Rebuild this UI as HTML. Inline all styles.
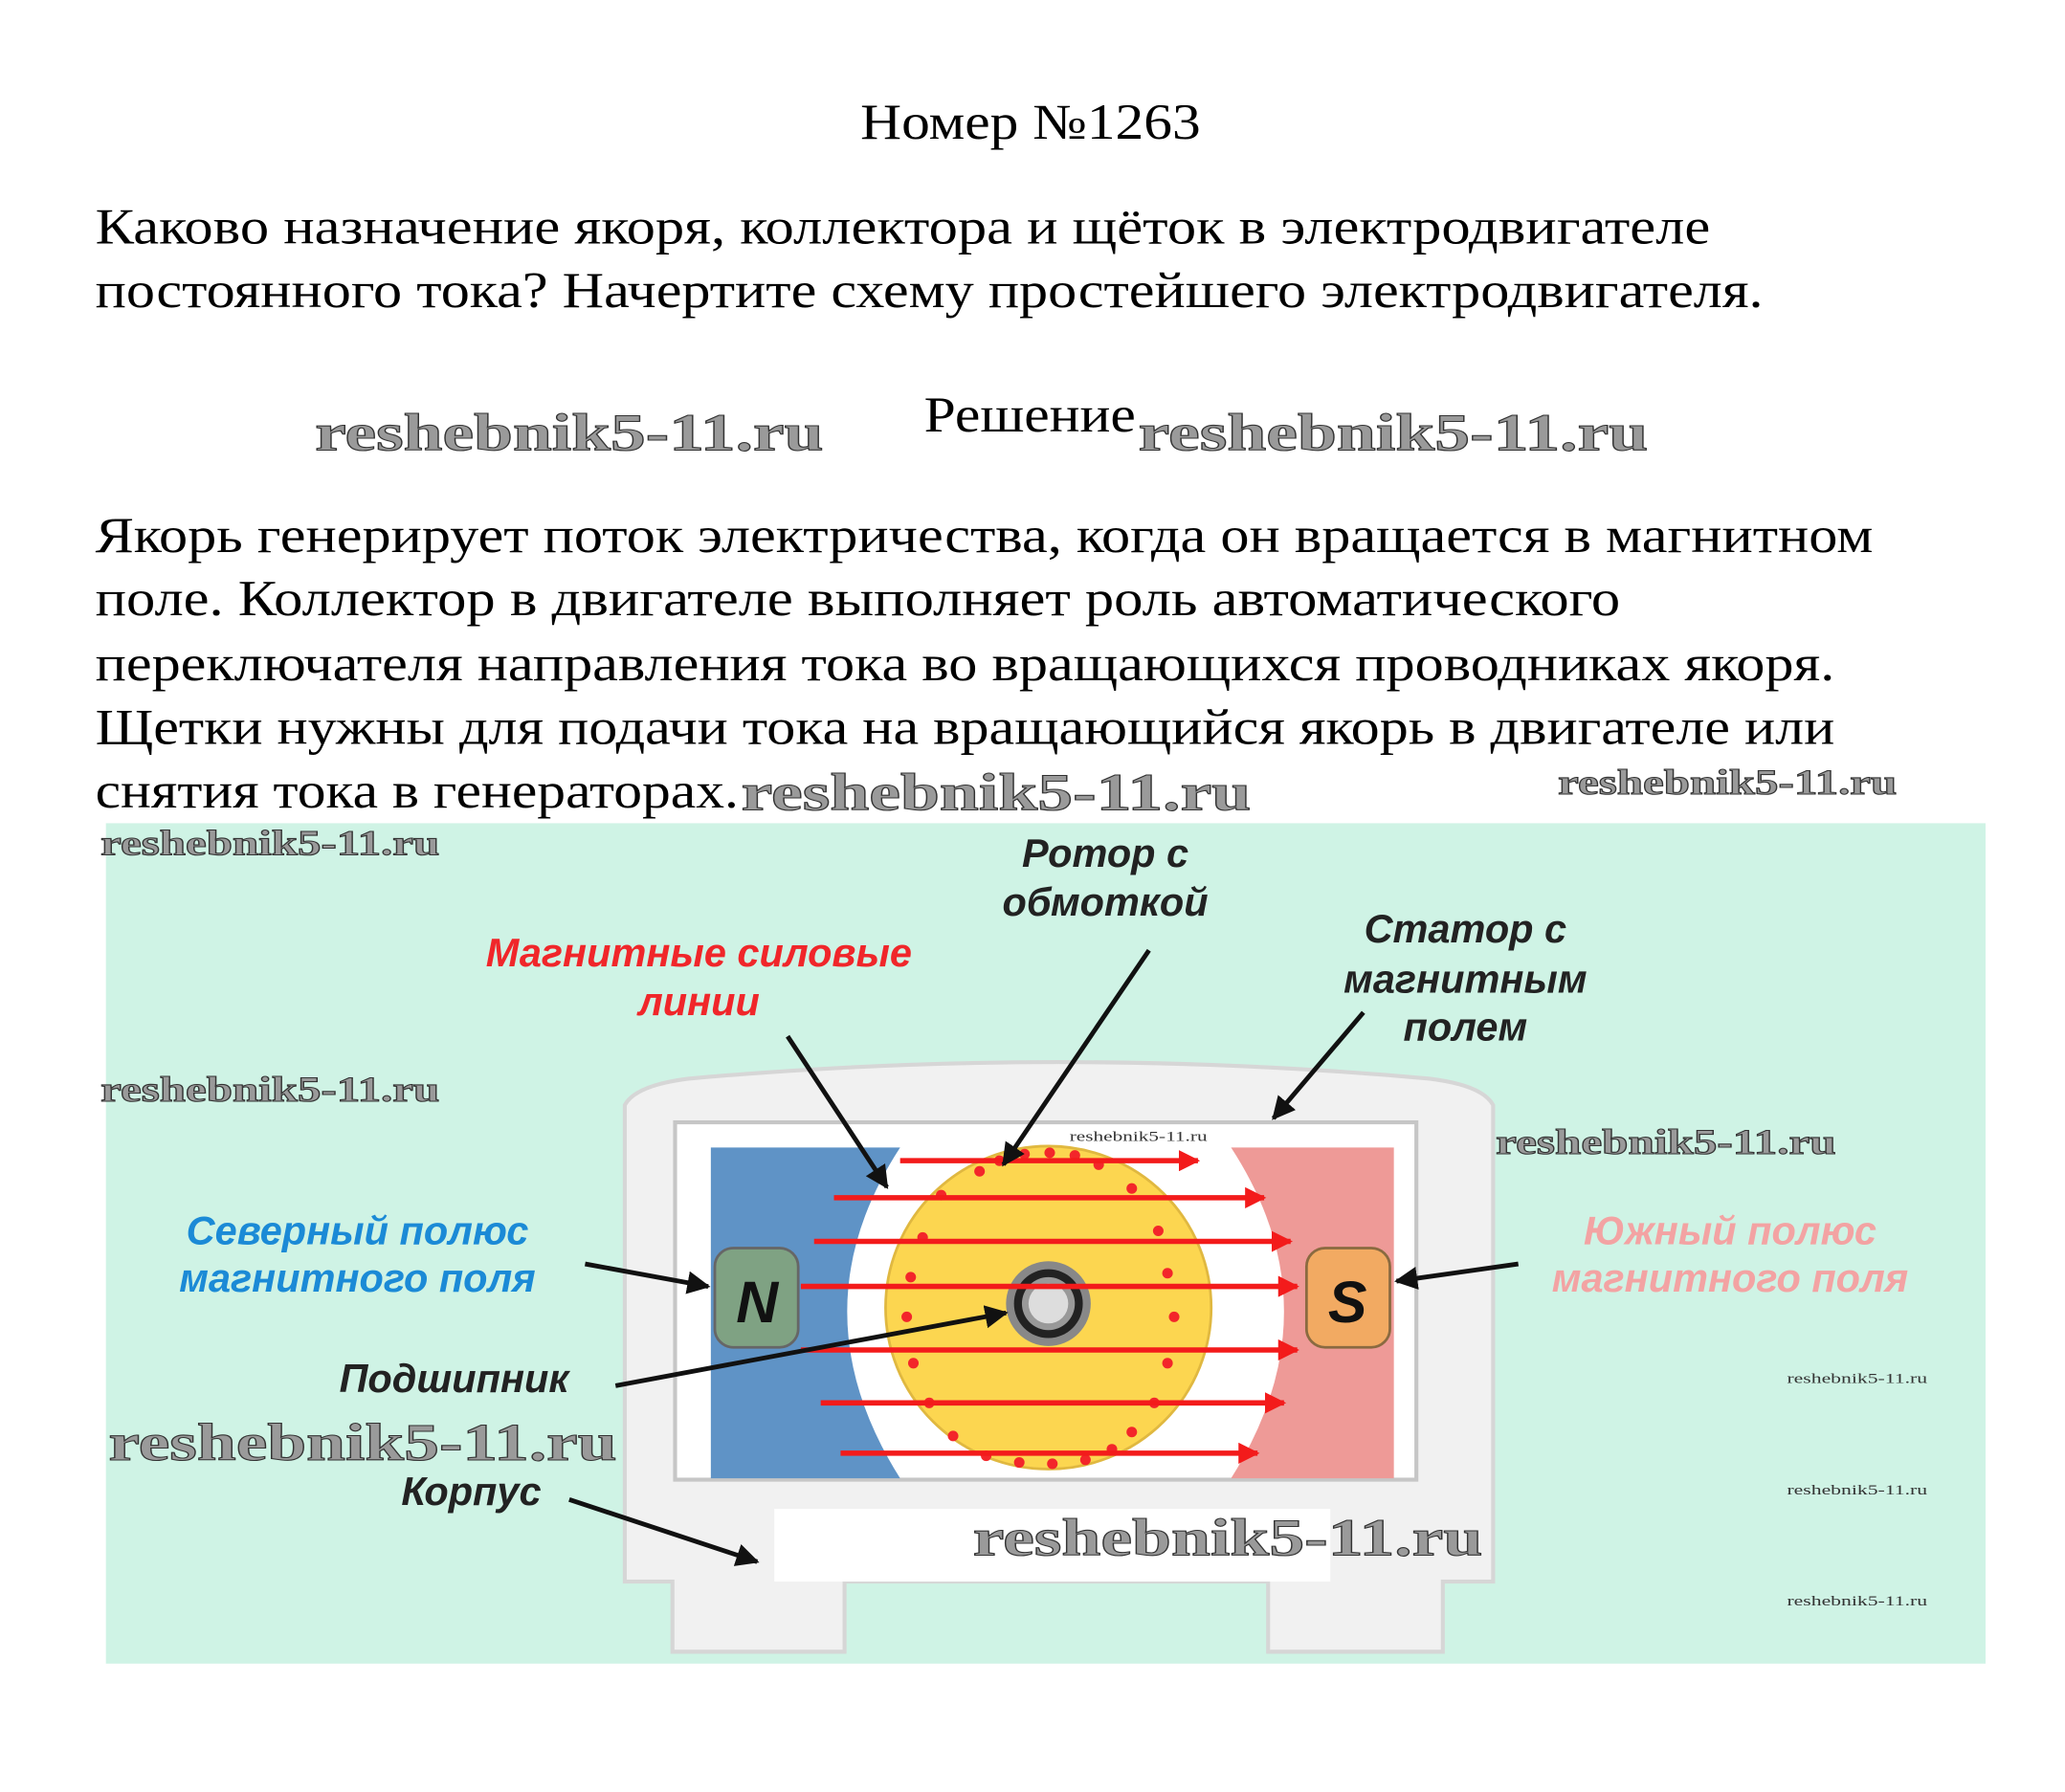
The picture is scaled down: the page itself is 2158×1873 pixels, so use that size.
<!DOCTYPE html>
<html><head><meta charset="utf-8"><style>
html,body{margin:0;padding:0;background:#fff;width:2158px;height:1873px;overflow:hidden}
svg{display:block}
.t{font-family:"Liberation Serif",serif;fill:#000}
.wm{font-family:"Liberation Serif",serif;font-weight:bold;fill:#9a9a9a;stroke:#333;stroke-width:0.8}
.lb{font-family:"Liberation Sans","DejaVu Sans",sans-serif;font-weight:bold;font-style:italic}
</style></head><body>
<svg width="2158" height="1873" viewBox="0 0 1560 1354" xmlns="http://www.w3.org/2000/svg">
<defs>
<marker id="ar" viewBox="0 0 10 10" refX="9" refY="5" markerWidth="5" markerHeight="5" orient="auto"><path d="M0,0 L10,5 L0,10 z" fill="#111"/></marker>
<marker id="rr" viewBox="0 0 10 10" refX="9" refY="5" markerWidth="4" markerHeight="4" orient="auto"><path d="M0,0 L10,5 L0,10 z" fill="#f31b1b"/></marker>
</defs>
<text class="t" x="650" y="105" font-size="38" textLength="257" lengthAdjust="spacingAndGlyphs">Номер №1263</text>
<text class="t" x="72" y="184" font-size="38" textLength="1220" lengthAdjust="spacingAndGlyphs">Каково назначение якоря, коллектора и щёток в электродвигателе</text>
<text class="t" x="72" y="232" font-size="38" textLength="1260" lengthAdjust="spacingAndGlyphs">постоянного тока? Начертите схему простейшего электродвигателя.</text>
<text class="t" x="698" y="326" font-size="38" textLength="160" lengthAdjust="spacingAndGlyphs">Решение</text>
<text class="t" x="72" y="417" font-size="38" textLength="1343" lengthAdjust="spacingAndGlyphs">Якорь генерирует поток электричества, когда он вращается в магнитном</text>
<text class="t" x="72" y="465" font-size="38" textLength="1152" lengthAdjust="spacingAndGlyphs">поле. Коллектор в двигателе выполняет роль автоматического</text>
<text class="t" x="72" y="514" font-size="38" textLength="1314" lengthAdjust="spacingAndGlyphs">переключателя направления тока во вращающихся проводниках якоря.</text>
<text class="t" x="72" y="562" font-size="38" textLength="1314" lengthAdjust="spacingAndGlyphs">Щетки нужны для подачи тока на вращающийся якорь в двигателе или</text>
<text class="t" x="72" y="610" font-size="38" textLength="486" lengthAdjust="spacingAndGlyphs">снятия тока в генераторах.</text>

<rect x="80" y="622" width="1420" height="635" fill="#cff3e5"/>
<path d="M472,835 Q480,820 520,815 Q800,790 1080,815 Q1120,820 1128,835 L1128,1195 L1090,1195 L1090,1248 L958,1248 L958,1195 L638,1195 L638,1248 L508,1248 L508,1195 L472,1195 Z" fill="#f1f1f1" stroke="#d6d6d6" stroke-width="3"/>
<rect x="510" y="848" width="560" height="270" fill="#fff" stroke="#c6c6c6" stroke-width="3"/>
<path d="M537,867 L680,867 Q600,990 680,1117 L537,1117 Z" fill="#5f93c6"/>
<path d="M1053,867 L930,867 Q1010,990 930,1117 L1053,1117 Z" fill="#ee9a97"/>
<ellipse cx="792" cy="988" rx="123" ry="122" fill="#fcd650" stroke="#e0b840" stroke-width="2"/>
<g fill="#f3262a">
<circle cx="755" cy="877" r="4"/><circle cx="774" cy="872" r="4"/><circle cx="793" cy="871" r="4"/><circle cx="812" cy="873" r="4"/><circle cx="740" cy="885" r="4"/><circle cx="830" cy="880" r="4"/>
<circle cx="711" cy="903" r="4"/><circle cx="855" cy="898" r="4"/><circle cx="697" cy="935" r="4"/><circle cx="875" cy="930" r="4"/>
<circle cx="688" cy="965" r="4"/><circle cx="882" cy="962" r="4"/><circle cx="685" cy="995" r="4"/><circle cx="887" cy="995" r="4"/>
<circle cx="690" cy="1030" r="4"/><circle cx="882" cy="1030" r="4"/><circle cx="702" cy="1060" r="4"/><circle cx="872" cy="1060" r="4"/>
<circle cx="720" cy="1085" r="4"/><circle cx="855" cy="1082" r="4"/><circle cx="745" cy="1100" r="4"/><circle cx="770" cy="1105" r="4"/><circle cx="795" cy="1106" r="4"/><circle cx="820" cy="1103" r="4"/><circle cx="840" cy="1095" r="4"/>
</g>
<circle cx="792" cy="985" r="32" fill="#888"/>
<circle cx="792" cy="985" r="26" fill="#222"/>
<circle cx="792" cy="985" r="20" fill="#999"/>
<circle cx="792" cy="985" r="15" fill="#ddd"/>
<g stroke="#f31b1b" stroke-width="4" marker-end="url(#rr)">
<line x1="680" y1="877" x2="905" y2="877"/>
<line x1="630" y1="905" x2="955" y2="905"/>
<line x1="615" y1="938" x2="975" y2="938"/>
<line x1="605" y1="972" x2="980" y2="972"/>
<line x1="605" y1="1020" x2="980" y2="1020"/>
<line x1="620" y1="1060" x2="970" y2="1060"/>
<line x1="635" y1="1098" x2="950" y2="1098"/>
</g>
<rect x="540" y="943" width="63" height="75" rx="14" fill="#7fa283" stroke="#666" stroke-width="2"/>
<rect x="987" y="943" width="63" height="75" rx="14" fill="#f2aa62" stroke="#8a6a40" stroke-width="2"/>
<text class="lb" x="572" y="999" font-size="44" text-anchor="middle" fill="#111">N</text>
<text class="lb" x="1018" y="999" font-size="44" text-anchor="middle" fill="#111">S</text>
<g stroke="#111" stroke-width="3.5" fill="none" marker-end="url(#ar)">
<line x1="595" y1="783" x2="670" y2="897"/>
<line x1="868" y1="718" x2="758" y2="880"/>
<line x1="1030" y1="765" x2="962" y2="845"/>
<line x1="442" y1="955" x2="535" y2="972"/>
<line x1="1147" y1="955" x2="1055" y2="968"/>
<line x1="465" y1="1047" x2="760" y2="992"/>
<line x1="430" y1="1133" x2="572" y2="1180"/>
</g>
<rect x="585" y="1140" width="420" height="55" fill="#fff"/>
<g class="lb" font-size="30" text-anchor="middle">
<text x="835" y="655" fill="#222">Ротор с</text>
<text x="835" y="692" fill="#222">обмоткой</text>
<text x="528" y="730" fill="#f0262a">Магнитные силовые</text>
<text x="528" y="767" fill="#f0262a">линии</text>
<text x="1107" y="712" fill="#222">Статор с</text>
<text x="1107" y="750" fill="#222">магнитным</text>
<text x="1107" y="786" fill="#222">полем</text>
<text x="270" y="940" fill="#1b8ad6">Северный полюс</text>
<text x="270" y="976" fill="#1b8ad6">магнитного поля</text>
<text x="1307" y="940" fill="#f3a3a3">Южный полюс</text>
<text x="1307" y="976" fill="#f3a3a3">магнитного поля</text>
<text x="343" y="1052" fill="#222">Подшипник</text>
<text x="356" y="1137" fill="#222">Корпус</text>
</g>
<text class="wm" x="238" y="340" font-size="40" textLength="384" lengthAdjust="spacingAndGlyphs">reshebnik5-11.ru</text>
<text class="wm" x="860" y="340" font-size="40" textLength="385" lengthAdjust="spacingAndGlyphs">reshebnik5-11.ru</text>
<text class="wm" x="560" y="612" font-size="40" textLength="385" lengthAdjust="spacingAndGlyphs">reshebnik5-11.ru</text>
<text class="wm" x="1177" y="600" font-size="27" textLength="256" lengthAdjust="spacingAndGlyphs">reshebnik5-11.ru</text>
<text class="wm" x="76" y="646" font-size="27" textLength="256" lengthAdjust="spacingAndGlyphs">reshebnik5-11.ru</text>
<text class="wm" x="76" y="832" font-size="27" textLength="256" lengthAdjust="spacingAndGlyphs">reshebnik5-11.ru</text>
<text class="wm" x="1130" y="872" font-size="27" textLength="257" lengthAdjust="spacingAndGlyphs">reshebnik5-11.ru</text>
<text class="wm" x="82" y="1103" font-size="40" textLength="384" lengthAdjust="spacingAndGlyphs">reshebnik5-11.ru</text>
<text class="wm" x="735" y="1175" font-size="40" textLength="385" lengthAdjust="spacingAndGlyphs">reshebnik5-11.ru</text>
<g font-family="Liberation Serif,serif" font-size="11" fill="#333">
<text x="808" y="862" textLength="104" lengthAdjust="spacingAndGlyphs">reshebnik5-11.ru</text>
<text x="1350" y="1045" textLength="106" lengthAdjust="spacingAndGlyphs">reshebnik5-11.ru</text>
<text x="1350" y="1129" textLength="106" lengthAdjust="spacingAndGlyphs">reshebnik5-11.ru</text>
<text x="1350" y="1213" textLength="106" lengthAdjust="spacingAndGlyphs">reshebnik5-11.ru</text>
</g>
</svg>
</body></html>
